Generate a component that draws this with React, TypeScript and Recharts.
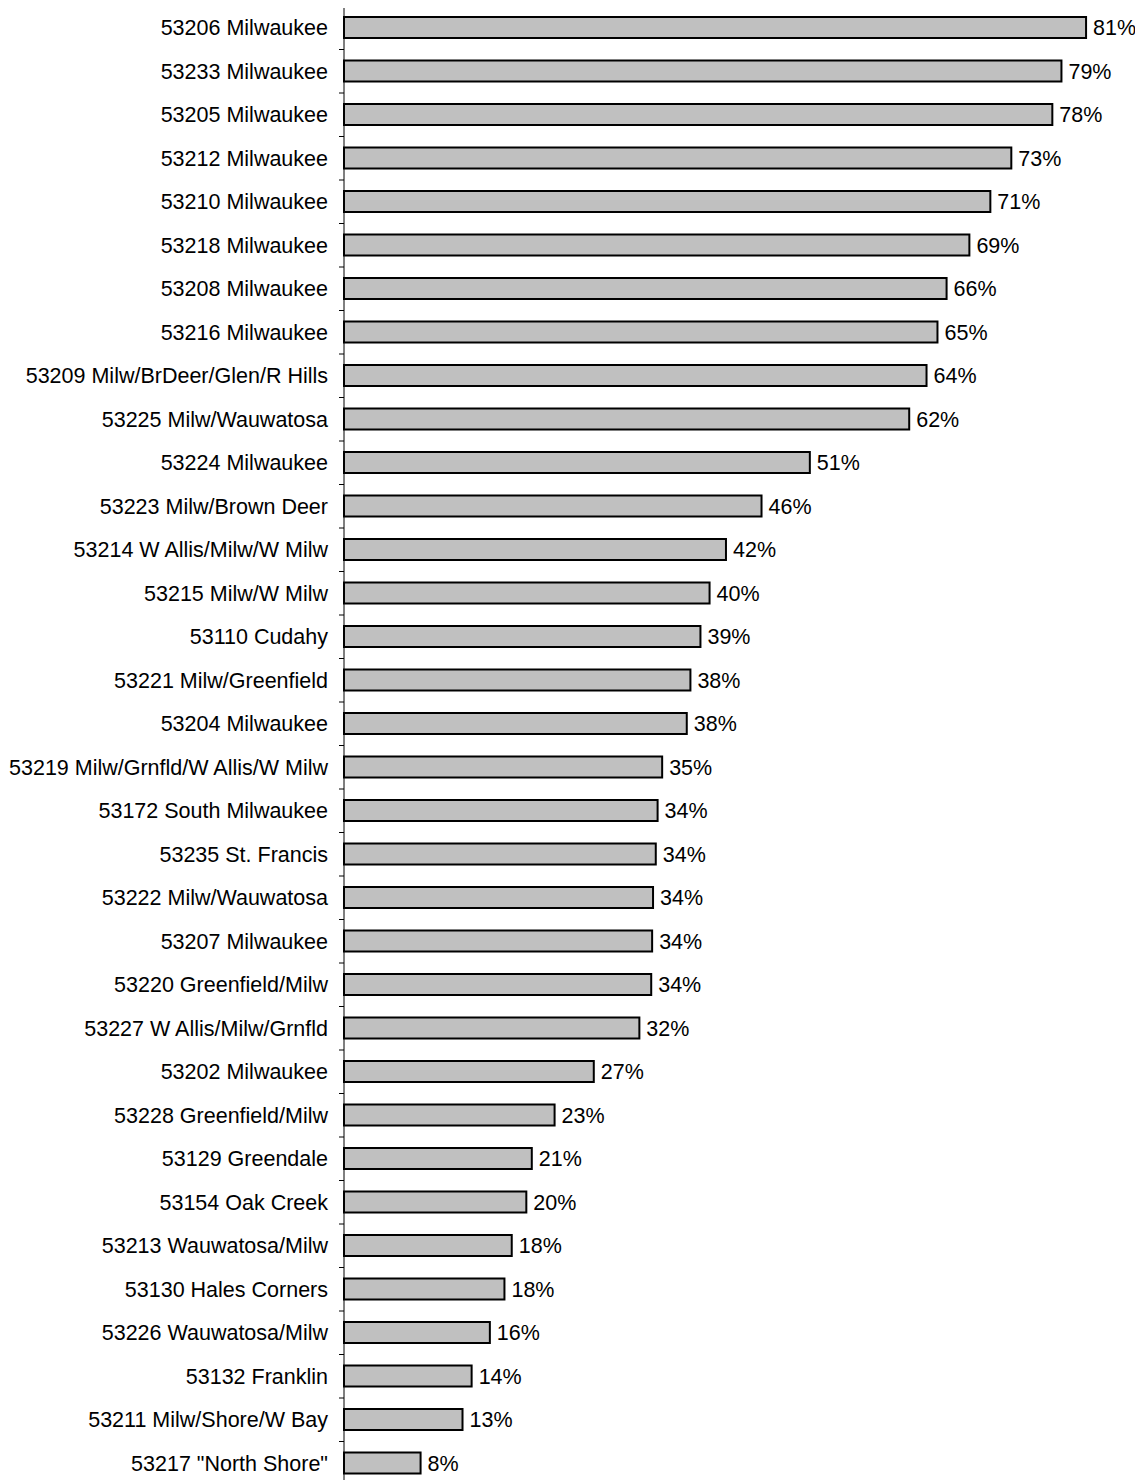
import { BarChart, Bar, XAxis, YAxis, LabelList } from "recharts";

const zipAreas = [
  "53206 Milwaukee",
  "53233 Milwaukee",
  "53205 Milwaukee",
  "53212 Milwaukee",
  "53210 Milwaukee",
  "53218 Milwaukee",
  "53208 Milwaukee",
  "53216 Milwaukee",
  "53209 Milw/BrDeer/Glen/R Hills",
  "53225 Milw/Wauwatosa",
  "53224 Milwaukee",
  "53223 Milw/Brown Deer",
  "53214 W Allis/Milw/W Milw",
  "53215 Milw/W Milw",
  "53110 Cudahy",
  "53221 Milw/Greenfield",
  "53204 Milwaukee",
  "53219 Milw/Grnfld/W Allis/W Milw",
  "53172 South Milwaukee",
  "53235 St. Francis",
  "53222 Milw/Wauwatosa",
  "53207 Milwaukee",
  "53220 Greenfield/Milw",
  "53227 W Allis/Milw/Grnfld",
  "53202 Milwaukee",
  "53228 Greenfield/Milw",
  "53129 Greendale",
  "53154 Oak Creek",
  "53213 Wauwatosa/Milw",
  "53130 Hales Corners",
  "53226 Wauwatosa/Milw",
  "53132 Franklin",
  "53211 Milw/Shore/W Bay",
  '53217 "North Shore"',
];

const shares = [
  81.4, 78.7, 77.7, 73.2, 70.9, 68.6, 66.1, 65.1, 63.9, 62.0, 51.1, 45.8, 41.9,
  40.1, 39.1, 38.0, 37.6, 34.9, 34.4, 34.2, 33.9, 33.8, 33.7, 32.4, 27.4, 23.1,
  20.6, 20.0, 18.4, 17.6, 16.0, 14.0, 13.0, 8.4,
];

const data = zipAreas.map((name, i) => ({ name, share: shares[i] }));

const W = 1143;
const TOP = 6;
const PLOT_H = 1479;
const H = TOP + PLOT_H + 6;
const band = PLOT_H / zipAreas.length;
const font = "'Liberation Sans', Arial, sans-serif";
const fontSize = 21.5;

// category label plus a short tick on the band's top edge
function ZipTick(props: any) {
  const { x, y, payload } = props;
  const axisX = x + 16;
  return (
    <g>
      <line x1={axisX - 5} x2={axisX} y1={y - band / 2} y2={y - band / 2} stroke="#000" strokeWidth={1} />
      <text x={x} y={y} dy="0.36em" textAnchor="end" fontSize={fontSize} fontFamily={font} fill="#000">
        {payload.value}
      </text>
    </g>
  );
}

export default function App() {
  return (
    <div style={{ margin: -8, width: W, height: H, background: "#fff" }}>
      <BarChart
        width={W}
        height={H}
        data={data}
        layout="vertical"
        margin={{ top: TOP, right: 15, bottom: 6, left: 0 }}
      >
        <XAxis type="number" domain={[0, 86]} hide />
        <YAxis
          type="category"
          dataKey="name"
          width={344}
          interval={0}
          axisLine={{ stroke: "#000", strokeWidth: 1 }}
          tickLine={false}
          tickSize={4}
          tickMargin={12}
          tick={<ZipTick />}
        />
        <Bar dataKey="share" fill="#c0c0c0" stroke="#000" strokeWidth={2} barSize={21} isAnimationActive={false}>
          <LabelList
            dataKey="share"
            position="right"
            offset={7}
            formatter={(v: any) => `${Math.round(v)}%`}
            fill="#000"
            fontSize={fontSize}
            fontFamily={font}
          />
        </Bar>
      </BarChart>
    </div>
  );
}
